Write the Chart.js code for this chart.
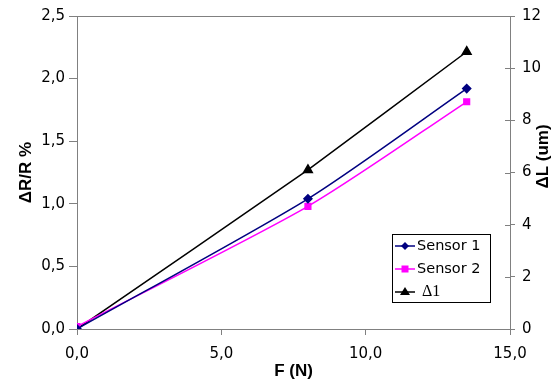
<!DOCTYPE html>
<html>
<head>
<meta charset="utf-8">
<script src="https://cdn.jsdelivr.net/npm/chart.js@4/dist/chart.umd.min.js"></script>
<style>
html,body{margin:0;padding:0;background:#fff;}
#wrap{width:556px;height:382px;position:relative;}
</style>
</head>
<body>
<div id="wrap"><canvas id="c" width="556" height="382"></canvas></div>
<script>
// ---- data ----
const forceN = [0, 8, 13.5];
const sensor1 = [0, 1.04, 1.92];
const sensor2 = [0.02, 0.98, 1.815];
const delta1 = [0, 6.1, 10.63];
const seriesLabels = ['Sensor 1', 'Sensor 2', '\u03941'];
const xTicks = [0, 5, 10, 15];
const yTicks = [0, 0.5, 1, 1.5, 2, 2.5];
const y2Ticks = [0, 2, 4, 6, 8, 10, 12];
const rightTitle = '\u0394L (um)';

const pts = (xs, ys) => xs.map((x, i) => ({x: x, y: ys[i]}));
const comma1 = v => Number(v).toFixed(1).replace('.', ',');

const tickFont = {family: 'DejaVu Sans', size: 15};
const titleFont = {family: 'Liberation Sans', size: 17, weight: 'bold'};
const axisGray = '#808080';

const extras = {
  id: 'extras',
  afterDatasetsDraw(chart) {
    const a = chart.chartArea, ctx = chart.ctx;
    ctx.save();
    ctx.strokeStyle = axisGray;
    ctx.lineWidth = 1;
    ctx.beginPath();
    ctx.moveTo(a.left, a.top + 0.5);
    ctx.lineTo(a.right, a.top + 0.5);
    // inner half of right-axis ticks (crossing marks)
    const y2 = chart.scales.y2;
    y2Ticks.forEach(v => {
      const py = Math.round(y2.getPixelForValue(v)) + 0.5;
      ctx.moveTo(a.right - 5, py);
      ctx.lineTo(a.right, py);
    });
    ctx.stroke();
    // right axis title, reading bottom-to-top
    ctx.translate(543, (a.top + a.bottom) / 2 - 16);
    ctx.rotate(-Math.PI / 2);
    ctx.fillStyle = '#000';
    ctx.font = 'bold 17px "Liberation Sans"';
    ctx.textAlign = 'center';
    ctx.textBaseline = 'middle';
    ctx.fillText(rightTitle, 0, 0);
    ctx.restore();
  }
};

const boxLegend = {
  id: 'boxLegend',
  afterDraw(chart) {
    const ctx = chart.ctx;
    const x0 = 392, y0 = 234, w = 98, h = 68;
    ctx.save();
    ctx.fillStyle = '#fff';
    ctx.fillRect(x0, y0, w, h);
    ctx.strokeStyle = '#000';
    ctx.lineWidth = 1;
    ctx.strokeRect(x0 + 0.5, y0 + 0.5, w, h);
    chart.data.datasets.forEach((ds, i) => {
      const cy = y0 + 12 + i * 23;
      ctx.strokeStyle = ds.borderColor;
      ctx.lineWidth = 1.5;
      ctx.beginPath();
      ctx.moveTo(x0 + 3, cy);
      ctx.lineTo(x0 + 23, cy);
      ctx.stroke();
      ctx.fillStyle = ds.pointBackgroundColor;
      const mx = x0 + 13;
      ctx.beginPath();
      if (ds.pointStyle === 'rectRot') {
        ctx.moveTo(mx, cy - 4); ctx.lineTo(mx + 4, cy); ctx.lineTo(mx, cy + 4); ctx.lineTo(mx - 4, cy);
      } else if (ds.pointStyle === 'rect') {
        ctx.rect(mx - 3.5, cy - 3.5, 7, 7);
      } else {
        ctx.moveTo(mx, cy - 5); ctx.lineTo(mx + 5, cy + 3); ctx.lineTo(mx - 5, cy + 3);
      }
      ctx.closePath();
      ctx.fill();
      ctx.fillStyle = '#000';
      ctx.textBaseline = 'middle';
      if (i === 2) {
        ctx.font = '16px "Liberation Serif"';
        ctx.fillText(ds.label, x0 + 30, cy);
      } else {
        ctx.font = '14.5px "DejaVu Sans"';
        ctx.fillText(ds.label, x0 + 25, cy);
      }
    });
    ctx.restore();
  }
};

new Chart(document.getElementById('c'), {
  type: 'line',
  data: {
    datasets: [
      {label: seriesLabels[0], data: pts(forceN, sensor1), yAxisID: 'y',
       borderColor: '#000080', backgroundColor: '#000080', pointBackgroundColor: '#000080',
       pointStyle: 'rectRot', pointRadius: 4, borderWidth: 1.5, tension: 0.25},
      {label: seriesLabels[1], data: pts(forceN, sensor2), yAxisID: 'y',
       borderColor: '#FF00FF', backgroundColor: '#FF00FF', pointBackgroundColor: '#FF00FF',
       pointStyle: 'rect', pointRadius: 4, borderWidth: 1.5, tension: 0.25},
      {label: seriesLabels[2], data: pts(forceN, delta1), yAxisID: 'y2',
       borderColor: '#000000', backgroundColor: '#000000', pointBackgroundColor: '#000000',
       pointStyle: 'triangle', pointRadius: 5, borderWidth: 1.5, tension: 0.1}
    ]
  },
  options: {
    responsive: false,
    animation: false,
    layout: {padding: {top: 16, left: 16, right: 0, bottom: 0}},
    plugins: {legend: {display: false}, tooltip: {enabled: false}},
    elements: {point: {borderWidth: 0}},
    scales: {
      x: {
        type: 'linear', min: 0, max: 15,
        afterBuildTicks: s => { s.ticks = xTicks.map(v => ({value: v})); },
        afterFit: s => { s.height = 53; },
        ticks: {callback: v => comma1(v), font: tickFont, color: '#000', padding: 10, maxRotation: 0},
        grid: {drawOnChartArea: false, tickLength: 6, color: axisGray},
        border: {color: axisGray, width: 1},
        title: {display: true, text: 'F (N)', font: titleFont, color: '#000', padding: {top: -3, bottom: 0}}
      },
      y: {
        type: 'linear', position: 'left', min: 0, max: 2.5,
        afterBuildTicks: s => { s.ticks = yTicks.map(v => ({value: v})); },
        afterFit: s => { s.width = 61; },
        ticks: {callback: v => comma1(v), font: tickFont, color: '#000', padding: 4},
        grid: {drawOnChartArea: false, tickLength: 8, color: axisGray},
        border: {color: axisGray, width: 1},
        title: {display: true, text: '\u0394R/R %', font: titleFont, color: '#000', padding: {top: 0, bottom: 6}}
      },
      y2: {
        type: 'linear', position: 'right', min: 0, max: 12,
        afterBuildTicks: s => { s.ticks = y2Ticks.map(v => ({value: v})); },
        afterFit: s => { s.width = 46; },
        ticks: {callback: v => String(v), font: tickFont, color: '#000', padding: 7},
        grid: {drawOnChartArea: false, tickLength: 5, color: axisGray},
        border: {color: axisGray, width: 1},
        title: {display: false, text: rightTitle}
      }
    }
  },
  plugins: [extras, boxLegend]
});
</script>
</body>
</html>
